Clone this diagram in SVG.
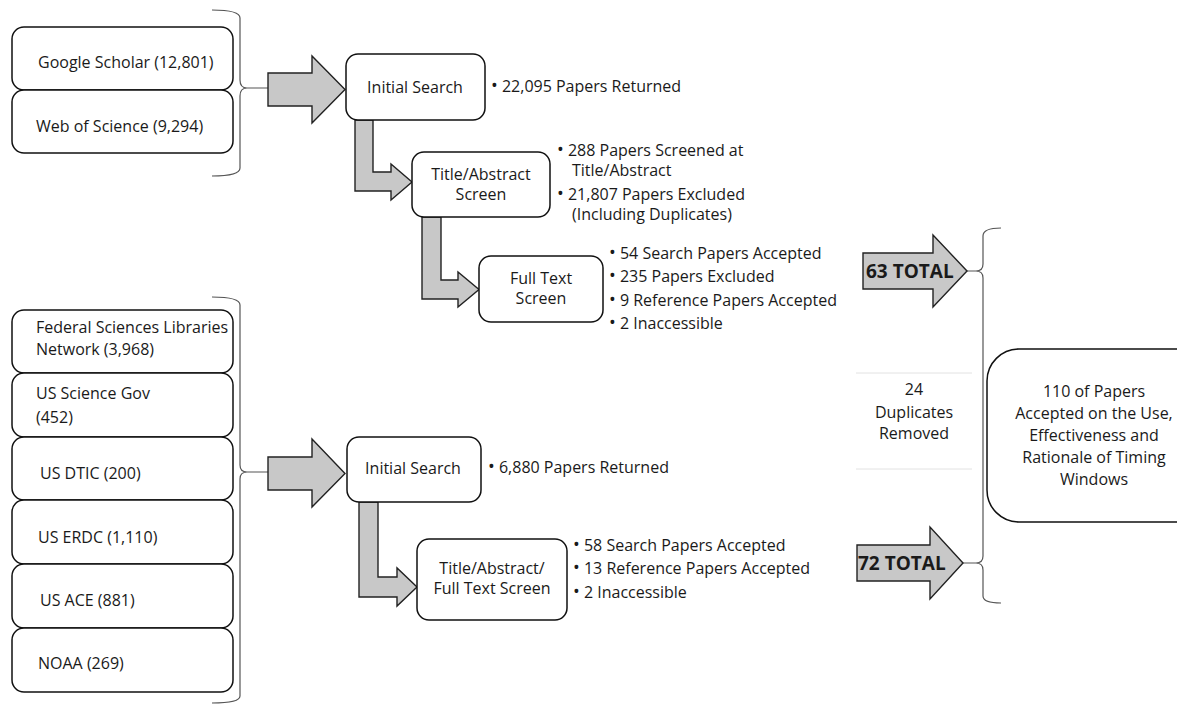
<svg xmlns="http://www.w3.org/2000/svg" width="1177" height="704" viewBox="0 0 1177 704">
<style>
text{font-family:"Open Sans","Liberation Sans",sans-serif;font-size:16px;fill:#1a1a1a}
.c{text-anchor:middle}
.b{font-size:18px}
.box{fill:#fff;stroke:#111;stroke-width:1.5}
.arr{fill:#c8c8c8;stroke:#222;stroke-width:1.4;stroke-linejoin:miter}
.brace{fill:none;stroke:#555;stroke-width:1.2}
.tot{font-weight:bold;font-size:19px}
</style>
<rect width="1177" height="704" fill="#fff"/>
<g id="connectors">
<path class="brace" d="M212,10 Q240,10 240,18 L240,80 Q240,88 247,88 Q240,88 240,96 L240,168 Q240,176 212,176 M247,88 L268,88"/>
<path class="brace" d="M212,297 Q240,297 240,305 L240,465 Q240,472 247,472 Q240,472 240,479 L240,696 Q240,703 212,703 M247,472 L268,472"/>
<path class="brace" d="M1001,228 Q983,228 983,236 L983,264 Q983,271 976,271 Q983,271 983,278 L983,556 Q983,563 976,563 Q983,563 983,570 L983,596 Q983,603 1001,603 M967,271 L976,271 M963,563 L976,563"/>
<polygon class="arr" points="268,73 312,73 312,56 345,89.5 312,123 312,106 268,106"/>
<polygon class="arr" points="268,457 312,457 312,439 345,473.5 312,507 312,490 268,490"/>
<polygon class="arr" points="355,120 373,120 373,172 391,172 391,164 412,182 391,200 391,191 355,191"/>
<polygon class="arr" points="422,217 441,217 441,280 458,280 458,272 479,289.5 458,307 458,299 422,299"/>
<polygon class="arr" points="359,502 378,502 378,577 397,577 397,568 417,587 397,606 397,597 359,597"/>
<polygon class="arr" points="863,253 933,253 933,235 967,271 933,307 933,289 863,289"/>
<polygon class="arr" points="857,545 930,545 930,527 963,563 930,599 930,581 857,581"/>
</g>
<g id="n-google"><rect class="box" x="12" y="27" width="221" height="63" rx="12"/><text x="38" y="68">Google Scholar (12,801)</text></g>
<g id="n-wos"><rect class="box" x="12" y="90" width="221" height="63" rx="12"/><text x="36" y="132">Web of Science (9,294)</text></g>
<g id="n-init1"><rect class="box" x="346" y="54" width="139" height="66" rx="12"/><text class="c" x="415" y="93">Initial Search</text></g>
<g id="t-init1"><text x="491" y="92"><tspan class="b">•</tspan> 22,095 Papers Returned</text></g>
<g id="n-ta1"><rect class="box" x="412" y="152" width="138" height="65" rx="12"/><text class="c" x="481" y="180">Title/Abstract</text><text class="c" x="481" y="200">Screen</text></g>
<g id="t-ta1"><text x="557" y="156"><tspan class="b">•</tspan> 288 Papers Screened at</text><text x="572" y="176">Title/Abstract</text><text x="557" y="200"><tspan class="b">•</tspan> 21,807 Papers Excluded</text><text x="572" y="220">(Including Duplicates)</text></g>
<g id="n-ft"><rect class="box" x="479" y="256" width="124" height="66" rx="12"/><text class="c" x="541" y="284">Full Text</text><text class="c" x="541" y="304">Screen</text></g>
<g id="t-ft"><text x="609" y="259"><tspan class="b">•</tspan> 54 Search Papers Accepted</text><text x="609" y="282"><tspan class="b">•</tspan> 235 Papers Excluded</text><text x="609" y="306"><tspan class="b">•</tspan> 9 Reference Papers Accepted</text><text x="609" y="329"><tspan class="b">•</tspan> 2 Inaccessible</text></g>
<g id="n-fed"><rect class="box" x="12" y="310" width="221" height="63" rx="12"/><text x="36" y="333">Federal Sciences Libraries</text><text x="36" y="355">Network (3,968)</text></g>
<g id="n-ussg"><rect class="box" x="12" y="373" width="221" height="64" rx="12"/><text x="36" y="399">US Science Gov</text><text x="36" y="423">(452)</text></g>
<g id="n-dtic"><rect class="box" x="12" y="437" width="221" height="63" rx="12"/><text x="40" y="479">US DTIC (200)</text></g>
<g id="n-erdc"><rect class="box" x="12" y="500" width="221" height="64" rx="12"/><text x="38" y="543">US ERDC (1,110)</text></g>
<g id="n-ace"><rect class="box" x="12" y="564" width="221" height="64" rx="12"/><text x="40" y="606">US ACE (881)</text></g>
<g id="n-noaa"><rect class="box" x="12" y="628" width="221" height="64" rx="12"/><text x="38" y="669">NOAA (269)</text></g>
<g id="n-init2"><rect class="box" x="347" y="437" width="134" height="65" rx="12"/><text class="c" x="413" y="474">Initial Search</text></g>
<g id="t-init2"><text x="488" y="473"><tspan class="b">•</tspan> 6,880 Papers Returned</text></g>
<g id="n-taft"><rect class="box" x="417" y="539" width="150" height="81" rx="12"/><text class="c" x="492" y="574">Title/Abstract/</text><text class="c" x="492" y="594">Full Text Screen</text></g>
<g id="t-taft"><text x="573" y="551"><tspan class="b">•</tspan> 58 Search Papers Accepted</text><text x="573" y="574"><tspan class="b">•</tspan> 13 Reference Papers Accepted</text><text x="573" y="598"><tspan class="b">•</tspan> 2 Inaccessible</text></g>
<g id="n-63"><text class="tot" x="866" y="278">63 TOTAL</text></g>
<g id="n-72"><text class="tot" x="858" y="570">72 TOTAL</text></g>
<g id="n-dup"><line x1="856" y1="373" x2="972" y2="373" stroke="#e2e2e2"/><line x1="856" y1="469" x2="972" y2="469" stroke="#e2e2e2"/><text class="c" x="914" y="395">24</text><text class="c" x="914" y="418">Duplicates</text><text class="c" x="914" y="439">Removed</text></g>
<g id="n-final"><rect class="box" x="987" y="349" width="240" height="173" rx="32"/><text class="c" x="1094" y="397">110 of Papers</text><text class="c" x="1094" y="419">Accepted on the Use,</text><text class="c" x="1094" y="441">Effectiveness and</text><text class="c" x="1094" y="463">Rationale of Timing</text><text class="c" x="1094" y="485">Windows</text></g>
</svg>
